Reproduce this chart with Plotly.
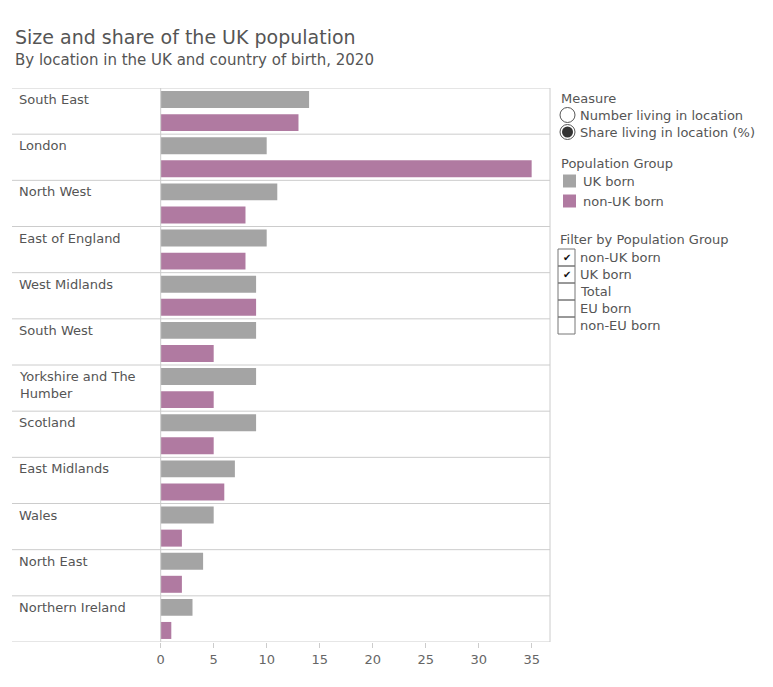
import plotly.graph_objects as go

regions = ["South East", "London", "North West", "East of England", "West Midlands",
           "South West", "Yorkshire and The<br>Humber", "Scotland", "East Midlands",
           "Wales", "North East", "Northern Ireland"]
uk_born = [14, 10, 11, 10, 9, 9, 9, 9, 7, 5, 4, 3]
non_uk_born = [13, 35, 8, 8, 9, 5, 5, 5, 6, 2, 2, 1]
x_ticks = [0, 5, 10, 15, 20, 25, 30, 35]
measure_options = ["Number living in location", "Share living in location (%)"]
filter_options = ["non-UK born", "UK born", "Total", "EU born", "non-EU born"]
filter_checked = [True, True, False, False, False]

GRAY = "#a4a4a4"
PURPLE = "#b07aa1"
LINE = "#cccccc"
TXT = "#555555"
FONT = "DejaVu Sans"

# page body has an 8px margin; work in reference-page pixels and offset
OFF = 8
W, H = 773 - OFF, 687 - OFF
L, R, T, B = 160, 550, 88, 642  # plot area edges in page pixels


def px(x):
    return (x - L) / (R - L)


def py(y):
    return (B - y) / (B - T)


n = len(regions)
pos = list(range(n))

fig = go.Figure()
fig.add_trace(go.Bar(
    y=[i + 0.25 for i in pos], x=uk_born, orientation="h", width=0.368,
    marker=dict(color=GRAY, line=dict(width=0)), name="UK born", showlegend=False,
    hovertemplate="%{x}<extra>UK born</extra>"))
fig.add_trace(go.Bar(
    y=[i + 0.75 for i in pos], x=non_uk_born, orientation="h", width=0.368,
    marker=dict(color=PURPLE, line=dict(width=0)), name="non-UK born", showlegend=False,
    hovertemplate="%{x}<extra>non-UK born</extra>"))

shapes = []
anns = []
# row separators
for i in range(n + 1):
    shapes.append(dict(type="line", xref="paper", yref="y", x0=px(12), x1=1, y0=i, y1=i,
                       line=dict(color=LINE, width=1)))
# left axis line at zero and right border
shapes.append(dict(type="line", xref="x", yref="paper", x0=0, x1=0, y0=0, y1=1,
                   line=dict(color=LINE, width=1)))
shapes.append(dict(type="line", xref="paper", yref="paper", x0=1, x1=1, y0=0, y1=1,
                   line=dict(color=LINE, width=1)))

# row labels
for i, r in enumerate(regions):
    anns.append(dict(xref="paper", yref="y", x=px(17), y=i, xanchor="left", yanchor="top",
                     yshift=-2, text=r, showarrow=False, align="left",
                     font=dict(family=FONT, size=13, color=TXT)))

# titles
anns.append(dict(xref="paper", yref="paper", x=px(13), y=py(37), xanchor="left", yanchor="middle",
                 text="Size and share of the UK population", showarrow=False,
                 font=dict(family=FONT, size=19, color=TXT)))
anns.append(dict(xref="paper", yref="paper", x=px(13), y=py(60), xanchor="left", yanchor="middle",
                 text="By location in the UK and country of birth, 2020", showarrow=False,
                 font=dict(family=FONT, size=15, color=TXT)))

# right panel
def label(x, y, text, size=13):
    anns.append(dict(xref="paper", yref="paper", x=px(x), y=py(y), xanchor="left", yanchor="middle",
                     text=text, showarrow=False, font=dict(family=FONT, size=size, color=TXT)))

label(559, 98, "Measure")
for k, opt in enumerate(measure_options):
    cy = 115 + 17 * k
    shapes.append(dict(type="circle", xref="paper", yref="paper",
                       x0=px(560), x1=px(575), y0=py(cy - 7.5), y1=py(cy + 7.5),
                       line=dict(color="#555555", width=1), fillcolor="white"))
    if k == 1:
        shapes.append(dict(type="circle", xref="paper", yref="paper",
                           x0=px(562), x1=px(573), y0=py(cy - 5.5), y1=py(cy + 5.5),
                           line=dict(width=0), fillcolor="#333333"))
    label(578, cy, opt)

label(559, 163, "Population Group")
for k, (nm, col) in enumerate([("UK born", GRAY), ("non-UK born", PURPLE)]):
    cy = 181 + 20 * k
    shapes.append(dict(type="rect", xref="paper", yref="paper",
                       x0=px(563), x1=px(576), y0=py(cy - 6.5), y1=py(cy + 6.5),
                       line=dict(width=0), fillcolor=col))
    label(581, cy, nm)

label(558, 239, "Filter by Population Group")
for k, opt in enumerate(filter_options):
    top = 249 + 17 * k
    shapes.append(dict(type="rect", xref="paper", yref="paper",
                       x0=px(558), x1=px(575), y0=py(top + 17), y1=py(top),
                       line=dict(color="#777777", width=1), fillcolor="rgba(0,0,0,0)"))
    if filter_checked[k]:
        anns.append(dict(xref="paper", yref="paper", x=px(566.5), y=py(top + 8.5),
                         xanchor="center", yanchor="middle", text="✔", showarrow=False,
                         font=dict(family=FONT, size=10, color="#111111")))
    label(578, top + 8.5, opt)

fig.update_layout(
    width=W, height=H,
    margin=dict(l=L - OFF, r=(W + OFF) - R, t=T - OFF, b=(H + OFF) - B, pad=0),
    paper_bgcolor="white", plot_bgcolor="white",
    barmode="overlay",
    showlegend=False,
    shapes=shapes, annotations=anns,
    xaxis=dict(range=[-0.066, 36.73], tickvals=x_ticks, ticktext=[str(v) for v in x_ticks],
               showgrid=False, zeroline=False, showline=False,
               ticks="outside", ticklen=5, tickcolor=LINE,
               tickfont=dict(family=FONT, size=13, color="#666666"), fixedrange=True),
    yaxis=dict(range=[n, 0], showgrid=False, zeroline=False, showline=False,
               showticklabels=False, ticks="", fixedrange=True),
    font=dict(family=FONT),
)

fig.write_html("out.html")
